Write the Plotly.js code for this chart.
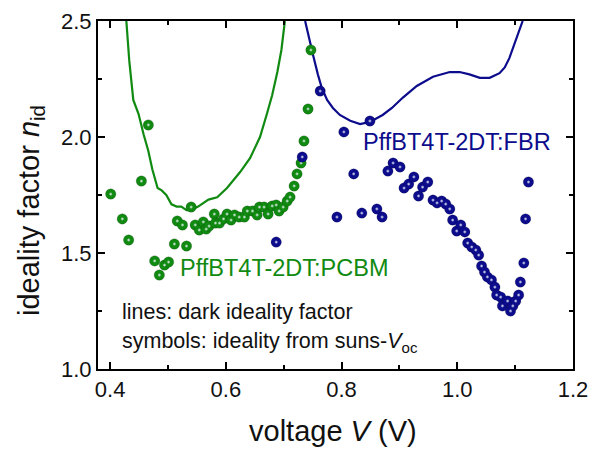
<!DOCTYPE html>
<html>
<head>
<meta charset="utf-8">
<script src="https://cdn.plot.ly/plotly-3.0.1.min.js"></script>
<style>html,body{margin:0;padding:0;background:#fff;}#chart{width:593px;height:453px;}</style>
</head>
<body>
<div id="chart"></div>
<script>
// Dark ideality factor (lines)
const pcbmLineV = [0.428,0.433,0.440,0.449,0.458,0.466,0.473,0.482,0.489,0.497,0.506,0.515,0.523,0.532,0.540,0.552,0.570,0.585,0.602,0.613,0.625,0.642,0.659,0.671,0.680,0.689,0.696,0.702];
const pcbmLineN = [2.50,2.33,2.16,2.10,2.01,1.94,1.86,1.78,1.77,1.75,1.71,1.70,1.70,1.685,1.685,1.70,1.73,1.74,1.78,1.815,1.85,1.91,2.00,2.10,2.18,2.28,2.375,2.50];
const fbrLineV = [0.737,0.744,0.751,0.759,0.766,0.775,0.785,0.797,0.815,0.832,0.849,0.871,0.887,0.906,0.930,0.958,0.987,1.004,1.021,1.039,1.056,1.073,1.082,1.090,1.099,1.108,1.113];
const fbrLineN = [2.50,2.42,2.35,2.27,2.21,2.16,2.125,2.095,2.07,2.056,2.065,2.095,2.125,2.17,2.22,2.26,2.28,2.28,2.27,2.255,2.255,2.275,2.30,2.34,2.40,2.46,2.50];

// Ideality from suns-Voc (symbols)
const pcbmSymV = [0.401,0.421,0.432,0.454,0.466,0.477,0.485,0.494,0.501,0.511,0.532,0.516,0.525,0.540,0.547,0.554,0.561,0.566,0.571,0.580,0.582,0.589,0.596,0.602,0.609,0.615,0.623,0.632,0.637,0.646,0.654,0.658,0.666,0.673,0.680,0.687,0.692,0.699,0.706,0.711,0.718,0.723,0.730,0.735,0.742,0.747];
const pcbmSymN = [1.754,1.647,1.556,1.810,2.052,1.466,1.405,1.448,1.461,1.539,1.530,1.638,1.621,1.698,1.621,1.599,1.634,1.603,1.616,1.668,1.629,1.629,1.647,1.668,1.642,1.664,1.655,1.655,1.681,1.681,1.664,1.698,1.698,1.668,1.703,1.707,1.681,1.698,1.724,1.741,1.789,1.841,1.888,1.983,2.121,2.375];
const fbrSymV = [0.687,0.732,0.763,0.804,0.849,0.821,0.792,0.835,0.861,0.870,0.880,0.889,0.901,0.908,0.916,0.925,0.933,0.940,0.949,0.958,0.965,0.973,0.980,0.987,0.992,0.999,1.006,1.013,1.018,1.025,1.032,1.037,1.042,1.047,1.052,1.059,1.065,1.068,1.075,1.078,1.087,1.092,1.096,1.101,1.106,1.109,1.115,1.118,1.123];
const fbrSymN = [1.547,1.914,2.198,2.022,2.069,1.841,1.655,1.672,1.690,1.655,1.853,1.888,1.871,1.780,1.797,1.828,1.746,1.784,1.806,1.728,1.716,1.724,1.711,1.690,1.642,1.595,1.621,1.591,1.543,1.526,1.513,1.491,1.444,1.418,1.397,1.384,1.353,1.319,1.310,1.272,1.293,1.250,1.272,1.293,1.319,1.375,1.457,1.647,1.806];

const xTicks = [0.4,0.6,0.8,1.0,1.2];
const yTicks = [1.0,1.5,2.0,2.5];

const GREEN = '#118a11';
const BLUE = '#0c0c8c';
const FONT = 'Liberation Sans, Arial, Helvetica, sans-serif';

function balls(x, y, col, name) {
  return [{
    x: x, y: y, type: 'scatter', mode: 'markers', name: name, showlegend: false,
    marker: {size: 10.5, color: col, line: {color: 'rgba(0,0,0,0.3)', width: 0.5}}
  }, {
    x: x, y: y, type: 'scatter', mode: 'markers', showlegend: false, hoverinfo: 'skip',
    marker: {size: 4, color: col, line: {width: 0},
      gradient: {type: 'radial', color: 'rgba(240,248,255,1)'}}
  }];
}

const traces = [
  {x: pcbmLineV, y: pcbmLineN, type: 'scatter', mode: 'lines', line: {color: GREEN, width: 2.2}, showlegend: false},
  {x: fbrLineV, y: fbrLineN, type: 'scatter', mode: 'lines', line: {color: BLUE, width: 2.2}, showlegend: false},
  ...balls(pcbmSymV, pcbmSymN, GREEN, 'PCBM'),
  ...balls(fbrSymV, fbrSymN, BLUE, 'FBR')
];

const axisCommon = {
  showline: true, linecolor: '#000', linewidth: 2, mirror: 'ticks',
  ticks: 'inside', ticklen: 7, tickwidth: 2, tickcolor: '#000',
  showgrid: false, zeroline: false, tickformat: '.1f',
  tickfont: {family: FONT, size: 22, color: '#111'}
};

const layout = {
  width: 593, height: 453,
  margin: {l: 98, r: 20, t: 21, b: 84},
  paper_bgcolor: '#fff', plot_bgcolor: '#fff',
  font: {family: FONT},
  xaxis: Object.assign({}, axisCommon, {
    range: [0.379, 1.2], tickvals: xTicks,
    minor: {ticks: 'inside', ticklen: 4, tickwidth: 2, tickcolor: '#000', dtick: 0.1, tick0: 0.4}
  }),
  yaxis: Object.assign({}, axisCommon, {
    range: [1.0, 2.5], tickvals: yTicks,
    minor: {ticks: 'inside', ticklen: 4, tickwidth: 2, tickcolor: '#000', dtick: 0.25, tick0: 1.0}
  }),
  annotations: [
    {text: 'voltage <i>V</i> (V)', xref: 'paper', yref: 'paper', x: 0.494, y: 0, yshift: -62,
     xanchor: 'center', yanchor: 'middle', showarrow: false, font: {family: FONT, size: 29, color: '#111'}},
    {text: 'ideality factor <i>n</i><sub>id</sub>', xref: 'paper', yref: 'paper', x: 0, xshift: -67,
     y: 0.454, textangle: -90, xanchor: 'center', yanchor: 'middle', showarrow: false,
     font: {family: FONT, size: 29, color: '#111'}},
    {text: 'PffBT4T-2DT:PCBM', x: 0.518, y: 1.435, xref: 'x', yref: 'y', xanchor: 'left', yanchor: 'middle',
     showarrow: false, font: {family: FONT, size: 23.5, color: GREEN}},
    {text: 'PffBT4T-2DT:FBR', x: 0.8335, y: 1.978, xref: 'x', yref: 'y', xanchor: 'left', yanchor: 'middle',
     showarrow: false, font: {family: FONT, size: 23.5, color: BLUE}},
    {text: 'lines: dark ideality factor', x: 0.4162, y: 1.246, xref: 'x', yref: 'y', xanchor: 'left', yanchor: 'middle',
     showarrow: false, font: {family: FONT, size: 21.5, color: '#111'}},
    {text: 'symbols: ideality from suns-<i>V</i><sub>oc</sub>', x: 0.4162, y: 1.116, xref: 'x', yref: 'y', xanchor: 'left', yanchor: 'middle',
     showarrow: false, font: {family: FONT, size: 21.5, color: '#111'}}
  ]
};

Plotly.newPlot('chart', traces, layout, {staticPlot: true, displayModeBar: false});
</script>
</body>
</html>
